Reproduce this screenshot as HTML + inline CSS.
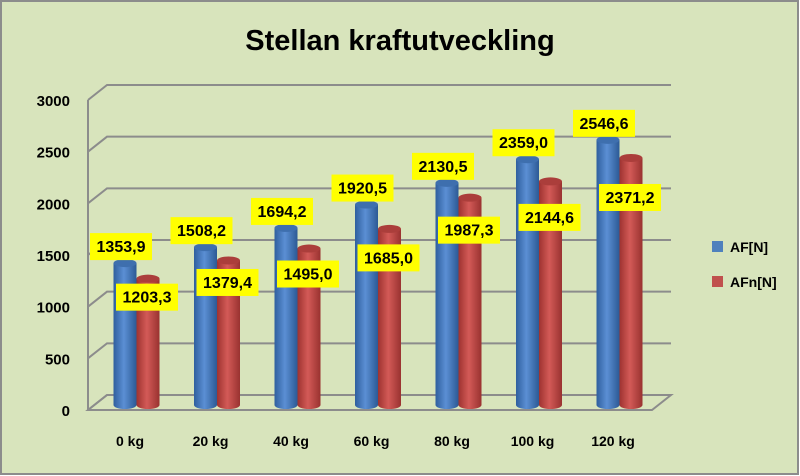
<!DOCTYPE html>
<html><head><meta charset="utf-8"><style>
html,body{margin:0;padding:0;background:#fff}
#c{width:800px;height:476px;display:block}
text{font-family:"Liberation Sans",sans-serif}
</style></head><body>
<svg id="c" xmlns="http://www.w3.org/2000/svg" width="800" height="476" viewBox="0 0 800 476">
<defs>
<linearGradient id="gb" x1="0" x2="1"><stop offset="0" stop-color="#2f5f9e"/><stop offset="0.45" stop-color="#5b8fd4"/><stop offset="1" stop-color="#2c5a95"/></linearGradient>
<linearGradient id="gr" x1="0" x2="1"><stop offset="0" stop-color="#9e3330"/><stop offset="0.45" stop-color="#d35a57"/><stop offset="1" stop-color="#993230"/></linearGradient>
</defs>
<rect x="1" y="1" width="797" height="473" fill="#d8e4bc" stroke="#8c8c8c" stroke-width="2"/>
<text x="400" y="50" text-anchor="middle" font-size="29" font-weight="bold" fill="#000">Stellan kraftutveckling</text>
<g id="grid"></g><g id="bars"></g><g id="labels"></g>
<g>
<rect x="712" y="241" width="11" height="11" fill="#4f81bd"/>
<text x="730" y="252" font-size="14" font-weight="bold">AF[N]</text>
<rect x="712" y="276" width="11" height="11" fill="#c0504d"/>
<text x="730" y="287" font-size="14" font-weight="bold">AFn[N]</text>
</g>
</svg>
<script>
const categories=["0 kg","20 kg","40 kg","60 kg","80 kg","100 kg","120 kg"];
const afValues=[1353.9,1508.2,1694.2,1920.5,2130.5,2359.0,2546.6];
const afnValues=[1203.3,1379.4,1495.0,1685.0,1987.3,2144.6,2371.2];
const yTicks=[0,500,1000,1500,2000,2500,3000];
const NS="http://www.w3.org/2000/svg";
const fx0=88,bx0=107,bx1=671,dY=15,front0=410,yMax=3000,plotH=310;
function yFront(v){return front0-v/yMax*plotH;}
function yMid(v){return front0-7-v/yMax*plotH;}
function xCat(i){return 125+i*80.5;}
function mk(tag,attrs,parent){const e=document.createElementNS(NS,tag);for(const k in attrs)e.setAttribute(k,attrs[k]);parent.appendChild(e);return e;}
const grid=document.getElementById('grid'),bars=document.getElementById('bars'),labels=document.getElementById('labels');
yTicks.forEach(t=>{
  const yf=yFront(t),yb=yf-dY;
  const p=mk('path',{d:`M${fx0},${yf}L${bx0},${yb}L${bx1},${yb}`,fill:'none',stroke:'#8c8c8c','stroke-width':2},grid);
  
  
  const tx=mk('text',{x:70,y:yf+6,'text-anchor':'end','font-size':15,'font-weight':'bold'},grid);
  tx.textContent=String(t);
  
  
});
const fl=mk('path',{d:`M${fx0},${front0}L${bx0},${front0-dY}L${bx1},${front0-dY}L${652},${front0}Z`,fill:'none',stroke:'#8c8c8c','stroke-width':2},grid);


const wall=mk('line',{x1:fx0,y1:front0,x2:fx0,y2:yFront(yMax),stroke:'#8c8c8c','stroke-width':2},grid);


function cyl(cx,v,fill,cap,name){
  const w=23,rx=w/2,ry=4,top=yMid(v),bot=yMid(0)+2;
  const g=mk('g',{},bars);
  
  
  mk('path',{d:`M${cx-rx},${top}L${cx-rx},${bot}A${rx},${ry} 0 0 0 ${cx+rx},${bot}L${cx+rx},${top}Z`,fill:fill},g);
  mk('ellipse',{cx:cx,cy:top,rx:rx,ry:ry,fill:cap},g);
  return top;
}
function lab(cx,cy,v,name){
  const txt=v.toFixed(1).replace('.',',');
  const r=mk('rect',{x:cx-31,y:cy-13,width:62,height:27,fill:'#ffff00'},labels);
  
  
  const t=mk('text',{x:cx,y:cy+6,'text-anchor':'middle','font-size':16,'font-weight':'bold'},labels);
  t.textContent=txt;
  
  
}
categories.forEach((c,i)=>{
  const bx=xCat(i),rxc=bx+23;
  const bt=cyl(bx,afValues[i],'url(#gb)','#3e6fae','bar-af-'+i);
  const rt=cyl(rxc,afnValues[i],'url(#gr)','#ab3e3b','bar-afn-'+i);
  lab(bx-4,bt-17,afValues[i],'value-label-af-'+i);
  lab(rxc-1,rt+18+i*3.5,afnValues[i],'value-label-afn-'+i);
  const t=mk('text',{x:bx+5,y:446,'text-anchor':'middle','font-size':14,'font-weight':'bold'},grid);
  t.textContent=c;
  
  
});
</script>
</body></html>
